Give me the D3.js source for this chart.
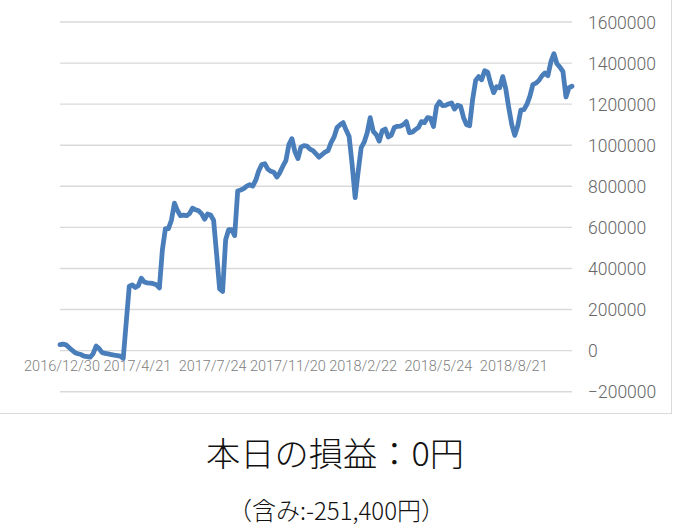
<!DOCTYPE html>
<html>
<head>
<meta charset="utf-8">
<script src="https://cdn.jsdelivr.net/npm/d3@7"></script>
<style>
  html, body { margin: 0; padding: 0; background: #fff; }
  svg { display: block; }
</style>
</head>
<body>
<svg id="chart" width="673" height="528"></svg>
<script>
// ---- data ----
const tickLabels = ["2016/12/30", "2017/4/21", "2017/7/24", "2017/11/20", "2018/2/22", "2018/5/24", "2018/8/21"];
const labelEvery = 25; // one date label every 25 categories
// cumulative P/L in thousands of yen, one value per category
const valuesK = [
  29, 32, 28, 15, 2, -10, -15, -19, -27, -29,
  -32, -15, 22, 10, -10, -13, -16, -19, -22, -24,
  -27, -37, 140, 314, 320, 307, 316, 353, 334, 330,
  329, 326, 321, 305, 492, 594, 594, 635, 718, 682,
  657, 660, 657, 667, 693, 686, 681, 667, 640, 665,
  660, 635, 470, 300, 288, 540, 589, 589, 560, 777,
  782, 789, 801, 808, 801, 830, 876, 906, 910, 884,
  873, 868, 845, 867, 898, 925, 1003, 1032, 969, 935,
  991, 998, 996, 981, 974, 958, 942, 954, 966, 974,
  1013, 1040, 1086, 1100, 1110, 1074, 1042, 906, 745, 872,
  988, 1015, 1061, 1134, 1068, 1052, 1020, 1071, 1079, 1040,
  1049, 1086, 1092, 1093, 1100, 1115, 1061, 1064, 1076, 1086,
  1115, 1110, 1134, 1132, 1091, 1188, 1212, 1193, 1194, 1201,
  1206, 1176, 1195, 1190, 1134, 1100, 1095, 1222, 1315, 1334,
  1319, 1363, 1356, 1300, 1256, 1285, 1280, 1334, 1276, 1183,
  1100, 1048, 1095, 1171, 1173, 1198, 1238, 1295, 1302, 1315,
  1337, 1352, 1339, 1407, 1446, 1397, 1380, 1358, 1235, 1280,
  1287
];
const yTicks = [-200000, 0, 200000, 400000, 600000, 800000, 1000000, 1200000, 1400000, 1600000];
const titleText = "本日の損益：0円";
const subtitleText = "（含み:-251,400円）";

// ---- chart ----
const svg = d3.select("#chart");
const values = valuesK.map(v => v * 1000);
const idx = d3.range(values.length);

const x = d3.scalePoint().domain(idx).range([60, 572]);
const y = d3.scaleLinear().domain([-200000, 1600000]).range([391.7, 22]);

// border (bottom + right)
svg.append("line").attr("x1", 0).attr("x2", 672).attr("y1", 413.5).attr("y2", 413.5)
  .attr("stroke", "#d9d9d9").attr("stroke-width", 1);
svg.append("line").attr("x1", 671.5).attr("x2", 671.5).attr("y1", 0).attr("y2", 413.5)
  .attr("stroke", "#d9d9d9").attr("stroke-width", 1);

// gridlines
svg.append("g").selectAll("line").data(yTicks).join("line")
  .attr("x1", 60).attr("x2", 572)
  .attr("y1", d => y(d)).attr("y2", d => y(d))
  .attr("stroke", "#d9d9d9").attr("stroke-width", 1.4);

// y axis labels (right side)
const yAxis = d3.axisRight(y).tickValues(yTicks).tickSize(0).tickPadding(0).tickFormat(d3.format("d"));
const gy = svg.append("g").attr("transform", "translate(588,0)").call(yAxis);
gy.select(".domain").remove();
gy.selectAll("text")
  .attr("fill", "#666")
  .style("font-family", "Roboto, 'Noto Sans', sans-serif")
  .style("font-weight", 300)
  .style("font-size", "17.5px")
  .attr("dy", "0.35em");

// x axis labels
const labelIdx = tickLabels.map((_, i) => i * labelEvery);
const xAxis = d3.axisBottom(x).tickValues(labelIdx).tickSize(0).tickPadding(0)
  .tickFormat(d => tickLabels[d / labelEvery]);
const gx = svg.append("g").attr("transform", "translate(1.5,371)").call(xAxis);
gx.select(".domain").remove();
gx.selectAll("text")
  .attr("fill", "#808080")
  .attr("y", 0).attr("dy", 0)
  .style("font-family", "Roboto, 'Noto Sans', sans-serif")
  .style("font-weight", 300)
  .style("font-size", "14.5px");

// line
const line = d3.line().x((d, i) => x(i)).y(d => y(d)).curve(d3.curveLinear);
svg.append("path").datum(values)
  .attr("d", line)
  .attr("fill", "none")
  .attr("stroke", "#4a7ebb")
  .attr("stroke-width", 4.8)
  .attr("stroke-linejoin", "round")
  .attr("stroke-linecap", "round");

// titles
svg.append("text").text(titleText)
  .attr("x", 335).attr("y", 466)
  .attr("text-anchor", "middle")
  .attr("fill", "#111")
  .attr("textLength", 258)
  .attr("lengthAdjust", "spacingAndGlyphs")
  .style("font-family", "'Noto Sans CJK JP', sans-serif")
  .style("font-weight", 300)
  .style("font-size", "33px");

svg.append("text").text(subtitleText)
  .attr("x", 336.5).attr("y", 520)
  .attr("text-anchor", "middle")
  .attr("fill", "#111")
  .attr("textLength", 217)
  .attr("lengthAdjust", "spacingAndGlyphs")
  .style("font-family", "'Noto Sans CJK JP', sans-serif")
  .style("font-weight", 300)
  .style("font-size", "24.5px");
</script>
</body>
</html>
